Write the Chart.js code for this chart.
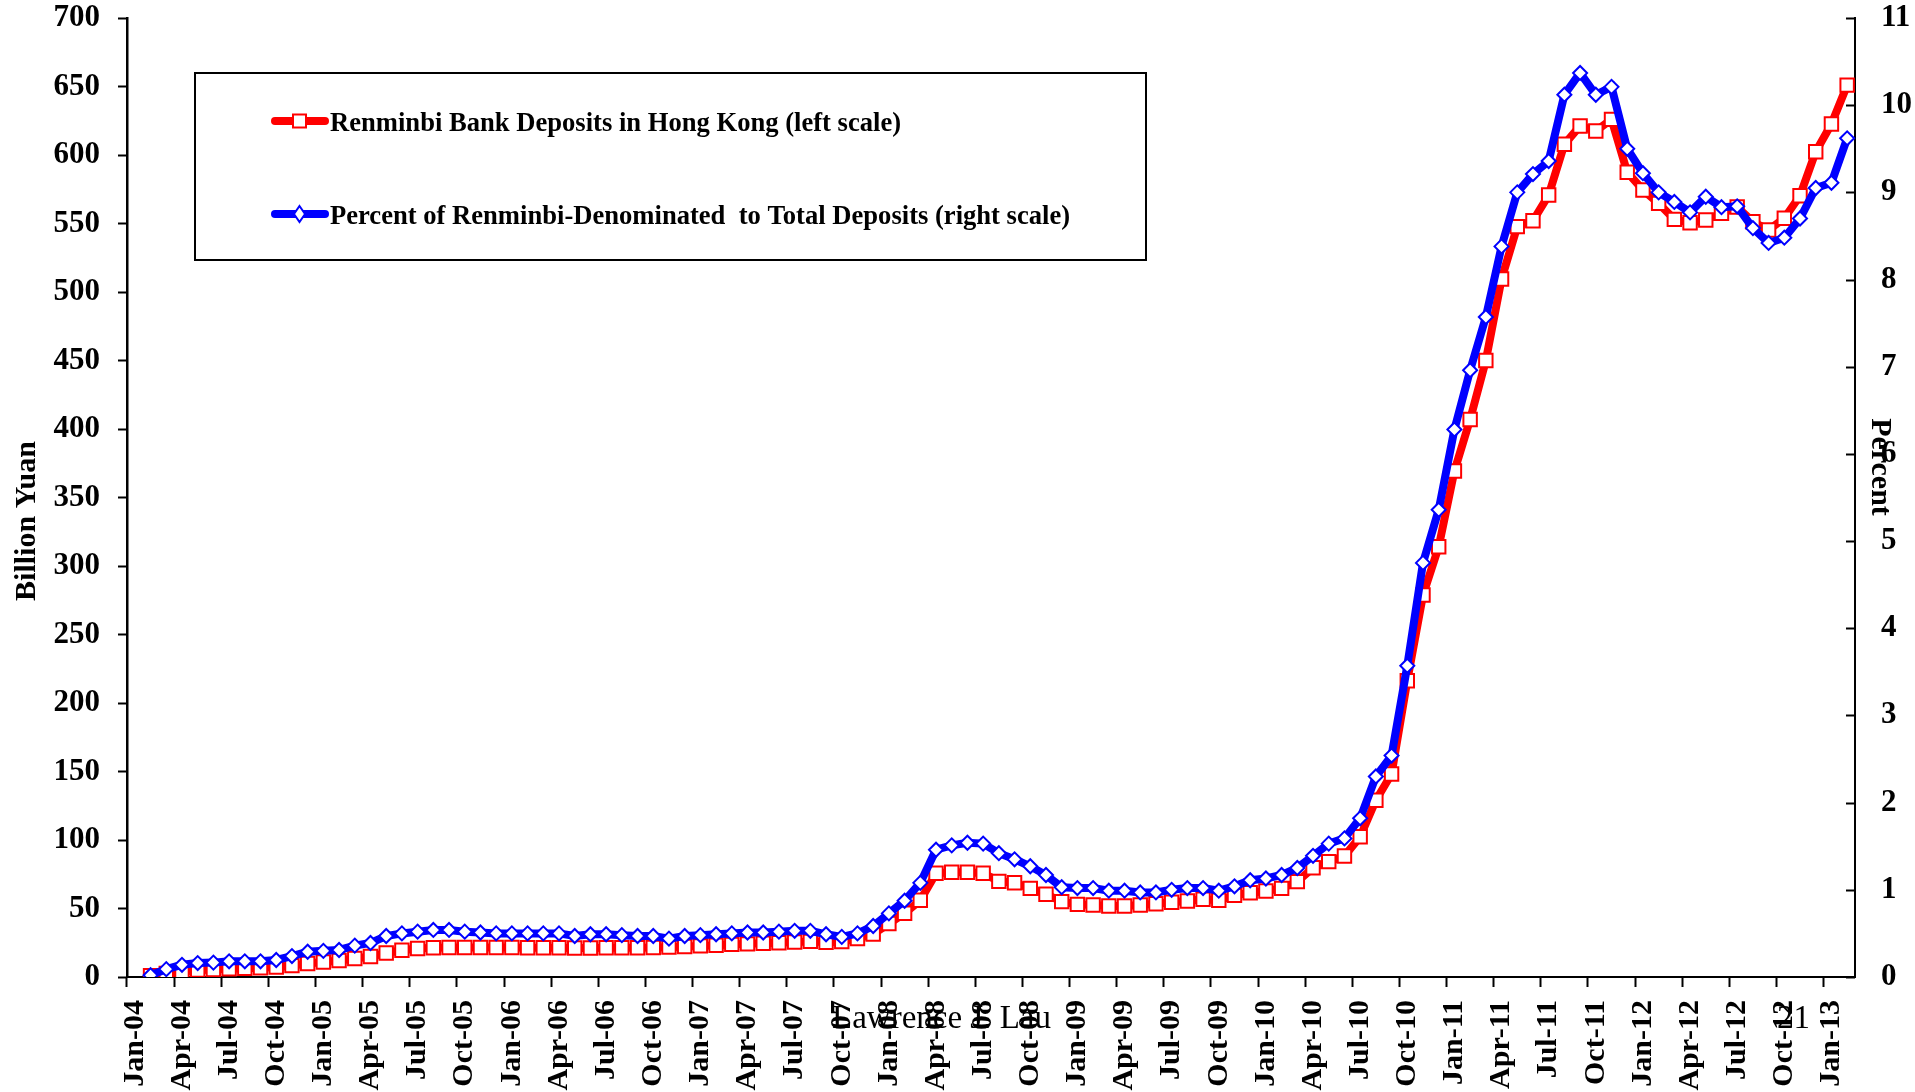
<!DOCTYPE html>
<html>
<head>
<meta charset="utf-8">
<script src="https://cdn.jsdelivr.net/npm/chart.js@4.4.1/dist/chart.umd.min.js"></script>
<style>
  html, body { margin: 0; padding: 0; background: #fff; }
  #wrap { width: 1915px; height: 1092px; }
</style>
</head>
<body>
<div id="wrap"><canvas id="chart" width="1915" height="1092"></canvas></div>
<script>
// months Jan-04 .. Feb-13, first month has no data
const monthNames = ["Jan","Feb","Mar","Apr","May","Jun","Jul","Aug","Sep","Oct","Nov","Dec"];
const yearTags = ["04","05","06","07","08","09","10","11","12","13"];
const lastMonthIndex = 1; // Feb-13

// Renminbi deposits in Hong Kong, billion yuan (left scale)
const depositsBn = [
  null, 1.0, 2.5, 4.0, 5.0, 5.5, 6.0, 6.3, 6.8, 7.3, 8.3, 9.8,          // 2004
  11.0, 12.0, 13.5, 15.0, 17.5, 19.5, 20.8, 21.3, 21.5, 21.6, 21.6, 21.6, // 2005
  21.5, 21.4, 21.3, 21.3, 21.2, 21.2, 21.3, 21.3, 21.4, 21.5, 21.8, 22.3, // 2006
  22.7, 23.2, 23.8, 24.2, 24.6, 25.0, 25.6, 26.0, 25.3, 25.8, 28.0, 31.4, // 2007
  39.0, 46.5, 56.0, 75.7, 76.4, 76.4, 75.7, 69.8, 68.8, 64.7, 60.4, 55.0, // 2008
  53.0, 52.5, 51.8, 51.8, 52.5, 53.5, 54.5, 55.5, 56.7, 56.0, 59.6, 61.5, // 2009
  62.8, 64.7, 69.6, 79.8, 84.2, 88.3, 102.4, 129.0, 148.2, 216.3, 278.8, 314.0, // 2010
  369.3, 407.0, 450.0, 509.5, 547.7, 552.0, 570.8, 607.8, 621.2, 617.5, 626.0, 587.4, // 2011
  574.5, 564.7, 553.0, 550.6, 552.6, 557.4, 562.0, 551.3, 545.3, 553.8, 570.3, 602.4, // 2012
  622.6, 651.0                                                             // 2013
];

// Renminbi-denominated share of total deposits, percent (right scale)
const rmbShare = [
  null, 0.02, 0.09, 0.14, 0.16, 0.165, 0.18, 0.18, 0.18, 0.195, 0.24, 0.29, // 2004
  0.30, 0.31, 0.36, 0.39, 0.47, 0.50, 0.52, 0.54, 0.54, 0.52, 0.51, 0.50,   // 2005
  0.50, 0.50, 0.50, 0.50, 0.47, 0.49, 0.49, 0.48, 0.47, 0.47, 0.44, 0.47,   // 2006
  0.48, 0.49, 0.50, 0.51, 0.51, 0.52, 0.53, 0.53, 0.49, 0.46, 0.50, 0.585,  // 2007
  0.73, 0.875, 1.08, 1.46, 1.51, 1.54, 1.53, 1.42, 1.35, 1.27, 1.17, 1.03,  // 2008
  1.02, 1.02, 0.99, 0.99, 0.97, 0.97, 1.00, 1.02, 1.02, 0.99, 1.04, 1.11,   // 2009
  1.13, 1.17, 1.25, 1.39, 1.53, 1.59, 1.82, 2.30, 2.54, 3.57, 4.75, 5.36,   // 2010
  6.28, 6.96, 7.57, 8.38, 9.00, 9.21, 9.36, 10.12, 10.37, 10.12, 10.21, 9.50, // 2011
  9.22, 9.00, 8.89, 8.77, 8.95, 8.83, 8.84, 8.59, 8.42, 8.48, 8.70, 9.05,   // 2012
  9.11, 9.62                                                               // 2013
];

const leftTicks = { min: 0, max: 700, step: 50 };
const rightTicks = { min: 0, max: 11, step: 1 };

const legendLabels = [
  "Renminbi Bank Deposits in Hong Kong (left scale)",
  "Percent of Renminbi-Denominated  to Total Deposits (right scale)"
];
const leftTitle = "Billion Yuan";
const rightTitle = "Percent";
const footerText = "Lawrence J. Lau";
const pageText = "21";

const labels = [];
yearTags.forEach((yr, k) => {
  monthNames.forEach((m, j) => {
    if (k === yearTags.length - 1 && j > lastMonthIndex) return;
    labels.push(m + "-" + yr);
  });
});

const FONT = "'Liberation Serif', 'Times New Roman', serif";
Chart.defaults.font.family = FONT;
Chart.defaults.color = "#000";

const RED = "#ff0000";
const BLUE = "#0000ff";

function drawTurned(ctx, text, x, y, angle) {
  ctx.save();
  ctx.translate(x, y);
  ctx.rotate(angle);
  ctx.font = "bold 30px " + FONT;
  ctx.fillStyle = "#000";
  ctx.textAlign = "center";
  ctx.textBaseline = "middle";
  ctx.fillText(text, 0, 0);
  ctx.restore();
}

// legend box, inward ticks on right axis, axis titles, footer text
const extras = {
  id: "extras",
  afterDraw(chart) {
    const ctx = chart.ctx;
    ctx.save();

    // inward tick marks for the right scale
    const s = chart.scales.y1;
    ctx.strokeStyle = "#000";
    ctx.lineWidth = 2;
    s.ticks.forEach(t => {
      const y = Math.round(s.getPixelForValue(t.value)) + 0.5;
      ctx.beginPath();
      ctx.moveTo(s.left - 9, y);
      ctx.lineTo(s.left, y);
      ctx.stroke();
    });

    // axis titles
    drawTurned(ctx, leftTitle, 27, 521, -Math.PI / 2);
    drawTurned(ctx, rightTitle, 1880, 467, Math.PI / 2);

    // legend
    ctx.lineWidth = 2;
    ctx.strokeStyle = "#000";
    ctx.strokeRect(195, 73, 951, 187);
    const rows = [
      { y: 121, color: RED, shape: "rect", text: legendLabels[0] },
      { y: 214, color: BLUE, shape: "diamond", text: legendLabels[1] }
    ];
    rows.forEach(r => {
      ctx.strokeStyle = r.color;
      ctx.lineWidth = 8;
      ctx.lineCap = "round";
      ctx.beginPath();
      ctx.moveTo(275, r.y);
      ctx.lineTo(325, r.y);
      ctx.stroke();
      ctx.lineCap = "butt";
      ctx.fillStyle = "#fff";
      ctx.lineWidth = 2;
      ctx.beginPath();
      if (r.shape === "rect") {
        ctx.rect(293, r.y - 6.5, 13, 13);
      } else {
        ctx.moveTo(299.5, r.y - 8);
        ctx.lineTo(305, r.y);
        ctx.lineTo(299.5, r.y + 8);
        ctx.lineTo(294, r.y);
        ctx.closePath();
      }
      ctx.fill();
      ctx.stroke();
      ctx.fillStyle = "#000";
      ctx.font = "bold 26.6px " + FONT;
      ctx.textAlign = "left";
      ctx.textBaseline = "alphabetic";
      ctx.fillText(r.text, 330, r.y + 10);
    });

    // footer
    ctx.font = "33px " + FONT;
    ctx.fillStyle = "#000";
    ctx.fillText(footerText, 832, 1028);
    ctx.fillText(pageText, 1777, 1028);
    ctx.restore();
  }
};

function noPad(s) {
  s.paddingTop = 0;
  s.paddingBottom = 0;
}

new Chart(document.getElementById("chart"), {
  type: "line",
  data: {
    labels: labels,
    datasets: [
      {
        label: legendLabels[0],
        data: depositsBn,
        yAxisID: "y",
        borderColor: RED,
        borderWidth: 8,
        pointStyle: "rect",
        pointRadius: 9.5,
        pointBorderWidth: 2,
        pointBorderColor: RED,
        pointBackgroundColor: "#fff",
        tension: 0,
        order: 2
      },
      {
        label: legendLabels[1],
        data: rmbShare,
        yAxisID: "y1",
        borderColor: BLUE,
        borderWidth: 8,
        pointStyle: "rectRot",
        pointRadius: 7,
        pointBorderWidth: 2,
        pointBorderColor: BLUE,
        pointBackgroundColor: "#fff",
        tension: 0,
        order: 1
      }
    ]
  },
  options: {
    responsive: false,
    animation: false,
    devicePixelRatio: 1,
    layout: { padding: { top: 18, left: 0, right: 0, bottom: 0 } },
    plugins: {
      legend: { display: false },
      tooltip: { enabled: false }
    },
    scales: {
      x: {
        offset: true,
        grid: {
          offset: true,
          drawOnChartArea: false,
          tickLength: 10,
          tickWidth: 2,
          tickColor: c => (c.index % 3 === 0 ? "#000" : "rgba(0,0,0,0)")
        },
        border: { display: true, color: "#000", width: 2 },
        ticks: {
          autoSkip: false,
          minRotation: 90,
          maxRotation: 90,
          padding: 13,
          font: { size: 30, weight: "bold" },
          callback: function (v, i) { return i % 3 === 0 ? this.getLabelForValue(v) : ""; }
        },
        afterFit: s => { s.height = 115; s.paddingLeft = 0; s.paddingRight = 0; }
      },
      y: {
        position: "left",
        min: leftTicks.min,
        max: leftTicks.max,
        grid: { drawOnChartArea: false, tickLength: 9, tickWidth: 2, tickColor: "#000" },
        border: { display: true, color: "#000", width: 2.5 },
        ticks: { stepSize: leftTicks.step, padding: 18, font: { size: 31, weight: "bold" } },
        afterFit: s => { s.width = 127; noPad(s); }
      },
      y1: {
        position: "right",
        min: rightTicks.min,
        max: rightTicks.max,
        grid: { drawOnChartArea: false, drawTicks: false },
        border: { display: true, color: "#000", width: 2 },
        ticks: { stepSize: rightTicks.step, padding: 26, font: { size: 31, weight: "bold" } },
        afterFit: s => { s.width = 60; noPad(s); }
      }
    }
  },
  plugins: [extras]
});
</script>
</body>
</html>
